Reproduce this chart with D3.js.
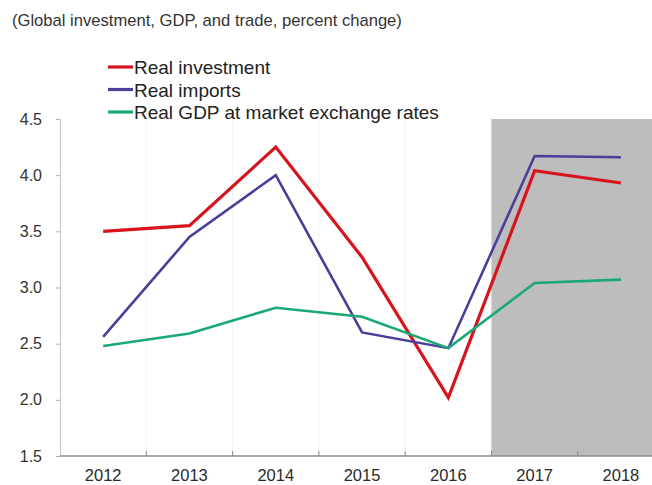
<!DOCTYPE html>
<html>
<head>
<meta charset="utf-8">
<script src="https://cdn.jsdelivr.net/npm/d3@7"></script>
<style>
  html, body { margin: 0; padding: 0; background: #fff; }
  svg { display: block; font-family: "Liberation Sans", Arial, sans-serif; }
</style>
</head>
<body>
<svg id="chart" width="652" height="485"></svg>
<script>
// Global investment, GDP and trade growth, percent change
const years = ["2012", "2013", "2014", "2015", "2016", "2017", "2018"];
const realInvestment = [3.50, 3.55, 4.25, 3.27, 2.02, 4.04, 3.93];
const realImports    = [2.56, 3.45, 4.00, 2.60, 2.46, 4.17, 4.16];
const realGDP        = [2.48, 2.59, 2.82, 2.74, 2.46, 3.04, 3.07];
const yTicks = [1.5, 2.0, 2.5, 3.0, 3.5, 4.0, 4.5];
const forecastYears = ["2017", "2018"];

const seriesNames = ["Real investment", "Real imports", "Real GDP at market exchange rates"];
const seriesColors = ["#d7141e", "#4a3f98", "#1aa874"];
const seriesWidths = [3.2, 2.6, 2.6];
const seriesValues = [realInvestment, realImports, realGDP];

const svg = d3.select("#chart");
const left = 60, bandW = 86.3;
const x = d3.scaleBand().domain(years).range([left, left + bandW * years.length]).padding(0);
const y = d3.scaleLinear().domain([1.5, 4.5]).range([456, 119]);
const cx = d => x(d) + x.bandwidth() / 2;

// faint vertical separators between years
svg.append("g").selectAll("line")
  .data(years.slice(1))
  .join("line")
  .attr("x1", d => x(d)).attr("x2", d => x(d))
  .attr("y1", y(4.5)).attr("y2", y(1.5))
  .attr("stroke", "#f3f3f3").attr("stroke-width", 1);

// shaded forecast period
svg.append("rect")
  .attr("x", x(forecastYears[0]))
  .attr("y", y(4.5))
  .attr("width", 652 - x(forecastYears[0]))
  .attr("height", y(1.5) - y(4.5))
  .attr("fill", "#bdbdbd");

// y axis
const yAxis = svg.append("g")
  .attr("transform", `translate(${left},0)`)
  .call(d3.axisLeft(y).tickValues(yTicks).tickFormat(d3.format(".1f")).tickSize(4).tickPadding(14));
yAxis.select(".domain").attr("stroke", "#c8c8c8");
yAxis.selectAll(".tick line").attr("stroke", "#b0b0b0");
yAxis.selectAll("text").attr("font-size", 16).attr("fill", "#333")
  .attr("font-family", "Liberation Sans, Arial, sans-serif");

// x axis
const xAxis = svg.append("g")
  .attr("transform", `translate(0,${y(1.5)})`)
  .call(d3.axisBottom(x).tickSize(0).tickPadding(13));
xAxis.select(".domain").attr("stroke", "#8a8a8a").attr("stroke-width", 1.3)
  .attr("d", `M${left},0H652`);
xAxis.selectAll("text").attr("font-size", 16.5).attr("fill", "#2a2a2a")
  .attr("font-family", "Liberation Sans, Arial, sans-serif");
// small ticks pointing up at year boundaries
xAxis.append("g").selectAll("line")
  .data(years.slice(1))
  .join("line")
  .attr("x1", d => x(d)).attr("x2", d => x(d))
  .attr("y1", 0).attr("y2", -5)
  .attr("stroke", "#8a8a8a");

// lines
const line = d3.line().x((d, i) => cx(years[i])).y(d => y(d));
svg.append("g").selectAll("path")
  .data(seriesValues)
  .join("path")
  .attr("d", d => line(d))
  .attr("fill", "none")
  .attr("stroke", (d, i) => seriesColors[i])
  .attr("stroke-width", (d, i) => seriesWidths[i])
  .attr("stroke-linejoin", "miter");

// title
svg.append("text")
  .attr("x", 12).attr("y", 26)
  .attr("font-size", 16.6).attr("fill", "#333")
  .text("(Global investment, GDP, and trade, percent change)");

// legend
const legend = svg.append("g");
const rows = legend.selectAll("g").data(seriesNames).join("g")
  .attr("transform", (d, i) => `translate(108,${67 + i * 22.5})`);
rows.append("line")
  .attr("x1", 0).attr("x2", 25).attr("y1", 0).attr("y2", 0)
  .attr("stroke", (d, i) => seriesColors[i]).attr("stroke-width", 3.2);
rows.append("text")
  .attr("x", 26).attr("y", 7)
  .attr("font-size", 19).attr("fill", "#222")
  .text(d => d);
</script>
</body>
</html>
